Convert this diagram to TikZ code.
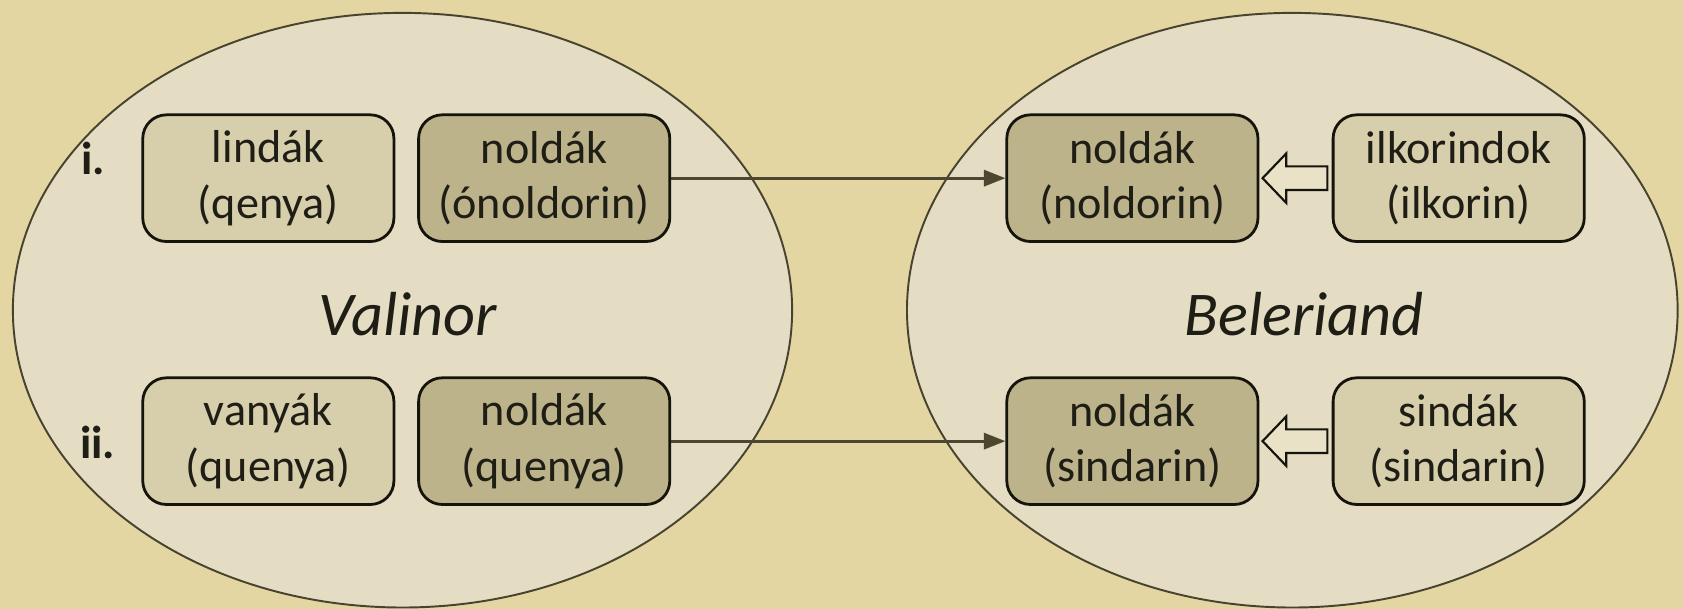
\documentclass[tikz,border=0pt]{standalone}
\usepackage{fontspec}
\setmainfont{Carlito}
\usetikzlibrary{arrows.meta,calc}
\definecolor{bgcol}{HTML}{E3D6A3}
\definecolor{ellcol}{HTML}{E4DDC3}
\definecolor{ellline}{HTML}{47432F}
\definecolor{lightbox}{HTML}{D7CEAB}
\definecolor{darkbox}{HTML}{BCB38A}
\definecolor{boxline}{HTML}{15140C}
\definecolor{arrcol}{HTML}{4D4731}
\definecolor{txtcol}{HTML}{1F1E16}
\definecolor{hollowfill}{HTML}{E9E2C6}
\tikzset{
  land/.style={draw=ellline, line width=0.9pt, fill=ellcol},
  lbox/.style={draw=boxline, line width=1.3pt, rounded corners=11pt, fill=lightbox,
    minimum width=117pt, minimum height=59pt, align=center, text=txtcol,
    font=\fontsize{21.5}{26}\selectfont, inner sep=0pt},
  dbox/.style={lbox, fill=darkbox},
  conn/.style={draw=arrcol, line width=1.3pt, -{Triangle[length=10pt,width=7.5pt]}},
  hollow/.style={draw=boxline, line width=1pt, fill=hollowfill, line join=miter},
  region/.style={font=\fontsize{29}{33}\selectfont\itshape, text=txtcol},
  rowlab/.style={font=\fontsize{21.5}{26}\selectfont\bfseries, text=txtcol}
}
\begin{document}
\begin{tikzpicture}[x=0.5pt,y=-0.5pt]
\useasboundingbox (0,0) rectangle (1568,567);
\fill[bgcol] (0,0) rectangle (1568,567);
% regions
\draw[land] (375,289) ellipse [x radius=363, y radius=277];
\draw[land] (1204,289) ellipse [x radius=359, y radius=277];
\node[region] (val) at (380,293) {Valinor};
\node[region] (bel) at (1215,293) {Beleriand};
% row labels
\node[rowlab] (r1) at (87,148) {i.};
\node[rowlab] (r2) at (91,412) {ii.};
% boxes
\node[lbox] (lin) at (250,166) {lindák\\(qenya)};
\node[dbox] (nA) at (507,166) {noldák\\(ónoldorin)};
\node[lbox] (van) at (250,411) {vanyák\\(quenya)};
\node[dbox] (nB) at (507,411) {noldák\\(quenya)};
\node[dbox] (nC) at (1055,166) {noldák\\(noldorin)};
\node[lbox] (ilk) at (1359,166) {ilkorindok\\(ilkorin)};
\node[dbox] (nD) at (1055,411) {noldák\\(sindarin)};
\node[lbox] (sin) at (1359,411) {sindák\\(sindarin)};
% connectors
\draw[conn] (nA) -- (nC);
\draw[conn] (nB) -- (nD);
% hollow block arrows
\foreach \src/\dst in {ilk/nC, sin/nD}{
  \coordinate (tip) at ($(\dst.east)+(3,0)$);
  \coordinate (tail) at ($(\src.west)+(-4,0)$);
  \draw[hollow] (tip) -- ++(22,-23) -- ++(0,12) -- ($(tail)+(0,-11)$)
     -- ($(tail)+(0,11)$) -- ($(tip)+(22,11)$) -- ($(tip)+(22,23)$) -- cycle;
}
\end{tikzpicture}
\end{document}
